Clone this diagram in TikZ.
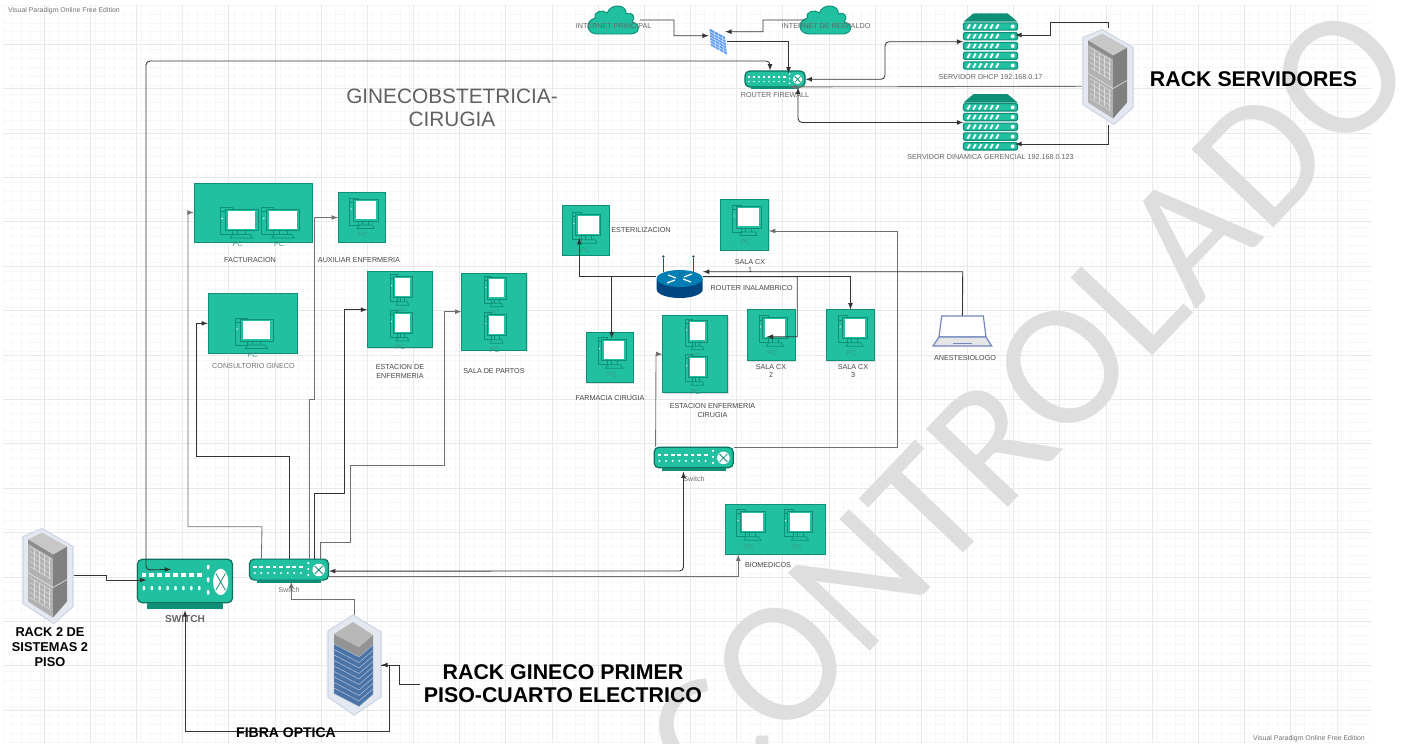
\documentclass[tikz,border=0pt]{standalone}
\usepackage{fontspec}
\setmainfont{Liberation Sans}
\newfontfamily\wmfont{Carlito}
\usetikzlibrary{calc,shadows}

\definecolor{tealb}{HTML}{20C0A0}
\definecolor{teald}{HTML}{0F8F78}
\definecolor{pctxt}{HTML}{3B9A88}
\definecolor{wirec}{HTML}{333333}
\definecolor{wireg}{HTML}{707070}
\definecolor{halo}{HTML}{E3E8F1}
\definecolor{halod}{HTML}{CDD5E4}
\definecolor{slab}{HTML}{4A74A8}
\definecolor{brick}{HTML}{5E9BEF}
\definecolor{lapc}{HTML}{7088BC}
\newcommand{\pxu}{.75pt}

\tikzset{
  dims/.style 2 args={minimum width=#1*\pxu, minimum height=#2*\pxu, inner sep=0},
  pcbox/.style={fill=tealb, draw=teald, line width=.5pt, drop shadow={opacity=.25, shadow xshift=.7pt, shadow yshift=-.7pt}},
  swbody/.style={fill=tealb, draw=teald!80!black, line width=.9pt, rounded corners=3.5pt},
  wire/.style={draw=wirec, line width=.65pt},
  wireg/.style={draw=wireg, line width=.65pt},
  lab/.style={font=\fontsize{5.4}{6.2}\selectfont, text=black!72, align=center, inner sep=0},
  pclab/.style={font=\fontsize{5.4}{6.2}\selectfont, text=pctxt, inner sep=0},
  bigbold/.style={font=\fontsize{16}{17.2}\selectfont\bfseries, text=black, align=center, inner sep=0},
  pcicon/.pic={
    \draw [teald, line width=.5pt] (-16,-12) rectangle (-7,15);
    \draw [teald, line width=.4pt] (-16,-8) -- (-7,-8);
    \fill [white] (-14.5,-1) circle (.7);
    \draw [teald, fill=tealb, line width=.5pt] (-12.5,-10.5) rectangle (12.5,11);
    \fill [white] (-10.2,-9) rectangle (10.2,9);
    \draw [teald, line width=.5pt] (-3,11) -- (-3,15) (3,11) -- (3,15);
    \draw [teald, line width=.5pt] (-8.5,18.5) -- (-6.5,15) -- (6.5,15) -- (8.5,18.5) -- cycle;
    \node (-lbl) [pclab] at (-3,25) {PC};
  },
  swports/.pic={
    \fill [teald] (-32,10.4) rectangle (32,13.4);
    \foreach \i in {0,...,7} {
      \fill [white] (-34.3+6.6*\i-1.9,-3.6) rectangle (-34.3+6.6*\i+1.9,-1.8);
      \fill [white] (-34.3+6.6*\i,3.4) circle (1.1);
    }
    \foreach \j in {-6.6,-.6,5.4}
      \fill [white] (19.3,\j) circle (1.2);
    \fill [white] (29.7,.4) circle (6.3);
    \draw [teald, line width=.6pt] (25.7,-3.6) -- (33.7,4.4) (33.7,-3.6) -- (25.7,4.4);
  },
  servericon/.pic={
    \node (-b) [dims={54}{57}] at (0,0) {};
    \fill [teald] (-27,-20) -- (-17,-28.4) -- (17,-28.4) -- (27,-20) -- cycle;
    \foreach \r in {0,...,4} {
      \draw [fill=tealb, draw=teald, line width=.8pt, rounded corners=1pt]
        (-27,-18.9+9.75*\r) rectangle (27,-11.5+9.75*\r);
      \foreach \t in {0,...,5}
        \draw [white, line width=1.4pt] (-23+5.7*\t,-13+9.75*\r) -- (-20.5+5.7*\t,-17.4+9.75*\r);
      \fill [white] (22.2,-15.2+9.75*\r) circle (2);
    }
  },
  rackicon/.pic={
    \node (-b) [dims={52}{97}] at (0,0) {};
    \filldraw [fill=halo, draw=halod, line width=.8pt]
      (-6,-47) -- (25,-29) -- (25,31) -- (6,48) -- (-25,28) -- (-25,-39) -- cycle;
    \fill [black!30] (-20,-36) -- (5,-21) -- (5,42) -- (-20,26) -- cycle;
    \fill [black!50] (5,-21) -- (19,-29) -- (19,26) -- (5,42) -- cycle;
    \fill [black!22] (-20,-36) -- (-6,-43) -- (19,-29) -- (5,-21) -- cycle;
    \fill [black!45] (-20,-36) -- (5,-21) -- (5,-17) -- (-20,-32) -- cycle;
    \draw [black!12, line width=.5pt] (-20,-3) -- (5,12) -- (19,4);
    \foreach \v in {-28,-23,...,-8,3,8,...,23}
      \draw [black!14, line width=.4pt] (-18,\v-1) -- (3,\v+11.5);
    \foreach \u in {-14,-9,...,1} {
      \draw [black!14, line width=.4pt] (\u,-28+.6*\u+10) -- (\u,-7+.6*\u+10);
      \draw [black!14, line width=.4pt] (\u,3+.6*\u+10) -- (\u,22+.6*\u+10);
    }
  },
  rackblue/.pic={
    \node (-b) [dims={54}{100}] at (0,0) {};
    \filldraw [fill=halo, draw=halod, line width=.8pt]
      (-1,-50) -- (27,-33) -- (27,32) -- (0,50) -- (-26,32) -- (-26,-34) -- cycle;
    \fill [black!42] (-20,-31) -- (5,-18) -- (19,-30) -- (19,-20) -- (5,-8) -- (-20,-21) -- cycle;
    \fill [black!28] (-20,-31) -- (-1,-43) -- (19,-30) -- (5,-18) -- cycle;
    \foreach \t in {0,5.5,...,44}
      \filldraw [fill=slab, draw=slab!45!white, line width=.3pt]
        (-20,-21+\t) -- (5,-8+\t) -- (19,-20+\t) -- (19,-14.5+\t) -- (5,-2.5+\t) -- (-20,-15.5+\t) -- cycle;
  },
  cloudicon/.pic={
    \node (-b) [dims={53}{28}] at (0,0) {};
    \draw [fill=tealb, draw=teald, line width=.7pt]
      (-16,14) .. controls (-27,14) and (-29,1) .. (-18,-2)
      .. controls (-20,-9) and (-10,-11) .. (-6,-7)
      .. controls (-3,-17) and (14,-16) .. (13,-6)
      .. controls (19,-9) and (23,-3) .. (19,2)
      .. controls (28,4) and (27,14) .. (17,14) -- cycle;
  }
}

\begin{document}
\begin{tikzpicture}[x=\pxu, y=-\pxu, >=latex]

  \clip (0,0) rectangle (1401,743);
  \fill [white] (0,0) rectangle (1401,743);

  \foreach \gx in {0,...,146}
    \draw [black!3, line width=.3pt] (3+9.23*\gx,5) -- (3+9.23*\gx,743);
  \foreach \gy in {0,...,83}
    \draw [black!3, line width=.3pt] (3,5+8.88*\gy) -- (1372,5+8.88*\gy);
  \foreach \gx in {0,...,29}
    \draw [black!9, line width=.4pt] (44+46.17*\gx-46.17,5) -- (44+46.17*\gx-46.17,743);
  \foreach \gy in {0,...,16}
    \draw [black!9, line width=.4pt] (3,44+44.4*\gy) -- (1372,44+44.4*\gy);

  \node (wm) [rotate=46.4, text=black!13, inner sep=0] at (1028,404) {\wmfont\fontsize{132}{140}\selectfont CONTROLADO};

  \node (vp1) [lab, text=black!55, font=\fontsize{5.2}{6}\selectfont] at (64,11) {Visual Paradigm Online Free Edition};
  \node (vp2) [lab, text=black!55, font=\fontsize{5.2}{6}\selectfont] at (1309,739) {Visual Paradigm Online Free Edition};

  \node (title) [font=\fontsize{15.6}{17.2}\selectfont, text=black!62, align=center, inner sep=0] at (452,108) {GINECOBSTETRICIA-\\CIRUGIA};

  \node (fact) [pcbox, dims={118}{59}] at (253,212.5) {};
  \node (cons) [pcbox, dims={89}{60}] at (252.7,323.3) {};
  \node (aux) [pcbox, dims={47}{50}] at (361.7,217.5) {};
  \node (esen) [pcbox, dims={65}{76}] at (400,309.7) {};
  \node (part) [pcbox, dims={65}{77}] at (494.2,311.7) {};
  \node (est) [pcbox, dims={47}{50}] at (585.8,230.2) {};
  \node (cx1) [pcbox, dims={48}{51}] at (744.6,224.5) {};
  \node (farm) [pcbox, dims={47}{50}] at (610,357.7) {};
  \node (estc) [pcbox, dims={65}{77}] at (695.2,354.3) {};
  \node (cx2) [pcbox, dims={48}{51}] at (771,335.3) {};
  \node (cx3) [pcbox, dims={48}{51}] at (850.5,335.3) {};
  \node (bio) [pcbox, dims={100}{50}] at (775.3,529.3) {};

  \pic (pf1) [xscale=1.33] at (241.5,219.5) {pcicon};
  \pic (pf2) [xscale=1.33] at (283,219.5) {pcicon};
  \pic (pc1) [xscale=1.33] at (256.5,330) {pcicon};
  \pic (pa1) at (365.7,210) {pcicon};
  \pic (pe1) [xscale=.75] at (402.5,286.7) {pcicon};
  \pic (pe2) [xscale=.75] at (402.5,322.5) {pcicon};
  \pic (pp1) [xscale=.75] at (496.7,288.3) {pcicon};
  \pic (pp2) [xscale=.75] at (496.7,324.7) {pcicon};
  \pic (ps1) at (588.3,224.7) {pcicon};
  \pic (pq1) at (748.5,217) {pcicon};
  \pic (pm1) at (614.2,349.7) {pcicon};
  \pic (pn1) [xscale=.75] at (697.5,331.2) {pcicon};
  \pic (pn2) [xscale=.75] at (697.5,366.7) {pcicon};
  \pic (pq2) at (775,327.8) {pcicon};
  \pic (pq3) at (854.7,327.8) {pcicon};
  \pic (pb1) at (752.5,521.7) {pcicon};
  \pic (pb2) at (800,521.7) {pcicon};

  \pic (c1) at (613.2,20) {cloudicon};
  \pic (c2) at (825.3,20) {cloudicon};

  \node (fw) [dims={18}{27}] at (718,41.5) {};
  \fill [brick] (709.5,28.5) -- (725,37) -- (727,55) -- (711,46) -- cycle;
  \foreach \b in {0,...,5}
    \draw [white!85!brick, line width=.35pt] (709.8+.27*\b,31.5+2.9*\b) -- (725.3+.27*\b,40+2.9*\b);
  \foreach \b in {1,2,3}
    \draw [white!85!brick, line width=.3pt] (710.5+3.9*\b,29+2.1*\b) -- (712+3.9*\b,47+2.1*\b);

  \node (rf) [swbody, dims={60}{16}] at (775,79) {};
  \pic [xscale=.76, yscale=.77] at (rf) {swports};
  \node (s1) [swbody, dims={79}{21}] at (289,569.6) {};
  \pic at (s1) {swports};
  \node (s2) [swbody, dims={79}{20.5}] at (693.7,457.5) {};
  \pic at (s2) {swports};
  \node (sw) [swbody, dims={95}{43.4}] at (185,581) {};
  \pic [xscale=1.2, yscale=2.1] at (sw) {swports};

  \pic (dh) at (990.5,41.7) {servericon};
  \pic (din) at (990.5,122.5) {servericon};
  \pic (rs) at (1108,76.5) {rackicon};
  \pic (rk2) at (48,575.5) {rackicon};
  \pic (rg) at (354,665) {rackblue};

  \node (wr) [dims={46}{28}] at (679.7,284) {};
  \draw [teald!60!blue, line width=.7pt] (663.3,258) -- (663.3,272) (693.3,258) -- (693.3,272);
  \fill [blue!50!cyan!60!black] (663.3,256.5) circle (1.3) (693.3,256.5) circle (1.3);
  \fill [blue!45!cyan!50!black] (656.7,279) -- (656.7,289.5) arc [start angle=180, end angle=0, x radius=23, y radius=8.5] -- (702.7,279) -- cycle;
  \fill [blue!30!cyan!70!black] (679.7,278.5) ellipse [x radius=23, y radius=8.5];
  \draw [white, line width=.9pt] (668,275) -- (676,278) (691,282) -- (683,279) (667,283) -- (675,280) (692,274) -- (684,277);

  \node (lap) [dims={58.7}{30.7}] at (962.4,331.3) {};
  \draw [draw=lapc, fill=white, line width=.9pt] (941.7,316) -- (983.3,316) -- (986,337) -- (939,337) -- cycle;
  \draw [draw=lapc, fill=black!10, line width=.9pt] (939,337) -- (986,337) -- (991.7,346) -- (933,346) -- cycle;
  \draw [lapc, line width=.6pt] (953,343) -- (972,343);

  \node (lfact) [lab] at (250,260.5) {FACTURACION};
  \node (laux) [lab] at (359,260) {AUXILIAR ENFERMERIA};
  \node (lcons) [lab, text=black!55] at (253.5,366) {CONSULTORIO GINECO};
  \node (lesen) [lab] at (400,371.5) {ESTACION DE\\ENFERMERIA};
  \node (lpart) [lab] at (494,371.5) {SALA DE PARTOS};
  \node (lest) [lab] at (641,230) {ESTERILIZACION};
  \node (lcx1) [lab] at (750,266) {SALA CX\\1};
  \node (lwr) [lab] at (751.7,288.3) {ROUTER INALAMBRICO};
  \node (lfarm) [lab] at (610,398) {FARMACIA CIRUGIA};
  \node (lestc) [lab] at (712.5,410.5) {ESTACION ENFERMERIA\\CIRUGIA};
  \node (lcx2) [lab] at (771,371.3) {SALA CX\\2};
  \node (lcx3) [lab] at (853,371.3) {SALA CX\\3};
  \node (llap) [lab] at (965,357.7) {ANESTESIOLOGO};
  \node (ls2) [lab, text=black!55] at (694,479) {Switch};
  \node (ls1) [lab, text=black!55] at (289,590) {Switch};
  \node (lbio) [lab] at (768,565.5) {BIOMEDICOS};
  \node (lc1) [lab, text=black!60] at (613.6,26) {INTERNET PRINCIPAL};
  \node (lc2) [lab, text=black!60] at (826,26) {INTERNET DE RESPALDO};
  \node (lrf) [lab, text=black!60] at (775,95) {ROUTER FIREWALL};
  \node (ldh) [lab, text=black!60] at (990.5,76.7) {SERVIDOR DHCP 192.168.0.17};
  \node (ldin) [lab, text=black!60] at (990.5,157) {SERVIDOR DINAMICA GERENCIAL 192.168.0.123};
  \node (lsw) [lab, text=black!60, font=\fontsize{7.6}{9}\selectfont\bfseries] at (185,619) {SWITCH};
  \node (lrs) [bigbold] at (1253.5,79) {RACK SERVIDORES};
  \node (lrg) [bigbold] at (563,684) {RACK GINECO PRIMER\\PISO-CUARTO ELECTRICO};
  \node (lrk2) [bigbold, font=\fontsize{9.6}{11.2}\selectfont\bfseries] at (50,647) {RACK 2 DE\\SISTEMAS 2\\PISO};
  \coordinate (rgtail) at (420,684);

  \draw [wire, ->] (c1-b.east) -| (674,35.7) -- ($(fw.west)+(0,-5.8)$);
  \draw [wire, ->] ($(c2-b.west)+(6,0)$) -| (763,31.7) -- ($(fw.east)+(-2,-9.8)$);
  \draw [wire, ->] (fw.east) -| ($(rf.north)+(13.5,3)$);
  \draw [wire, <->, rounded corners=3pt] ($(sw.north west)+(34.2,10.7)$) -- (146,570) -- (146,61) -| ($(rf.north)+(-5,0)$);
  \draw [wire, ->] (rk2-b.east) -- (106,575.5) -- (106,580) -- ($(sw.west)+(9.5,-1)$);
  \draw [wire, <->] ($(sw.south)+(0,7)$) -- (185,731) -| (389,665) -- (rg-b.east);
  \draw [wire] (rgtail) -| (399,665) -- (rg-b.east);
  \draw [wireg, ->] (rg-b.north) -- (354,599) -| ($(s1.south)+(2.3,1)$);
  \draw [wire, <->, rounded corners=3pt] ($(s1.east)+(0,1.5)$) -- (683.5,571) -- ($(s2.south)+(-10.2,3.3)$);
  \draw [wireg, ->] ($(s1.east)+(0,6.4)$) -| ($(bio.south)+(-37,0)$);
  \draw [wireg, ->] ($(s2.north west)+(2,0)$) -- (656,354) -- (estc.west);
  \draw [wireg, ->] ($(s2.north east)+(0,1)$) -| (897.7,231) -- ($(cx1.east)+(0,6.5)$);
  \draw [wire, ->] ($(wr.west)+(0,-7.3)$) -| ($(est)+(-6.5,7.8)$);
  \draw [wire, ->] ($(wr.west)+(0,-7.3)$) -| ($(farm)+(1.7,-19.4)$);
  \draw [wire, ->] ($(wr.east)+(0,-7.3)$) -- (797.3,276.7) -- (797.3,336.7) -- ($(cx2)+(-4.3,1.4)$);
  \draw [wire, ->] ($(wr.east)+(0,-7.3)$) -| (cx3.north);
  \draw [wire, ->] (lap.north) -- (962.7,271.7) -- ($(wr.east)+(0,-12.3)$);
  \draw [wireg, ->] ($(s1.north west)+(12.5,0)$) -- (262,526.7) -- (188,526.7) -- (188,212.5) -- (fact.west);
  \draw [wire, ->] ($(s1.north)+(.3,0)$) -- (289.3,456.7) -- (196.7,456.7) -- (196.7,323.3) -- (cons.west);
  \draw [wireg, ->] ($(s1.north)+(20,0)$) -- (309,399) -- (314.7,399) -- (314.7,217.5) -- (aux.west);
  \draw [wire, ->] ($(s1.north)+(25.3,0)$) -- (314.3,493.3) -- (344,493.3) -- (344,309.7) -- (esen.west);
  \draw [wireg, ->] ($(s1.north)+(31.7,0)$) -- (320.7,542.7) -- (350.3,542.7) -- (350.3,465.7) -- (444.3,465.7) -- (444.3,311.7) -- (part.west);
  \draw [wireg, ->] ($(rs-b.west)+(0,9.8)$) -- ($(rf.south)+(15,-.7)$);
  \draw [wire, ->] (rs-b.north) -- (1108,22.7) -- (1050.6,22.7) -- (1050.6,35) -- ($(dh-b.east)+(-2.5,-6.7)$);
  \draw [wire, ->] (rs-b.south) -- (1108,144) -- ($(din-b.east)+(-2.5,21.5)$);
  \draw [wire, <->, rounded corners=3pt] ($(rf.east)+(0,.3)$) -- (885,79.3) -- (885,41.7) -- (dh-b.west);
  \draw [wire, <->, rounded corners=3pt] ($(rf.south)+(23,0)$) -- (798,122.5) -- (din-b.west);

  \node (lfib) [bigbold, font=\fontsize{10.5}{12}\selectfont\bfseries] at (286,733) {FIBRA OPTICA};

\end{tikzpicture}
\end{document}
